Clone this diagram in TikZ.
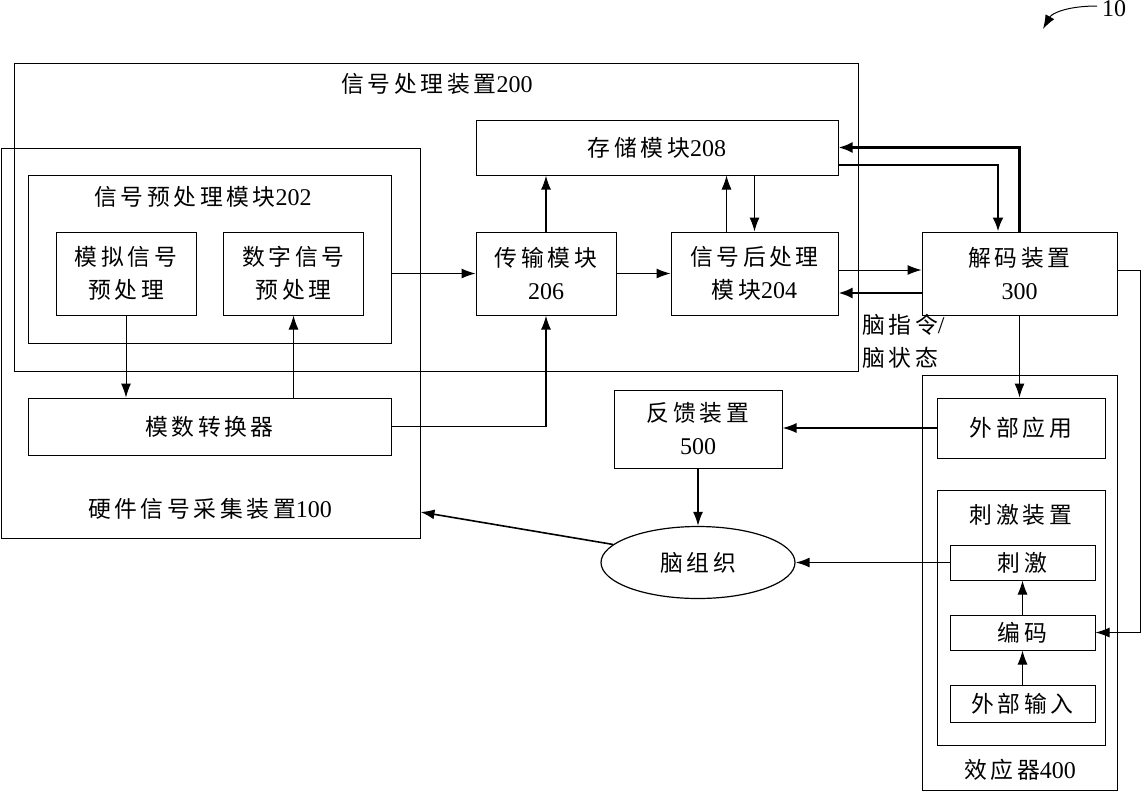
\documentclass[tikz,border=0pt]{standalone}
\usepackage{fontspec}
\setmainfont{Liberation Serif}
\newfontfamily\cjk[Scale=0.95,LetterSpace=16]{Noto Sans CJK SC}
\newcommand{\zh}[1]{{\cjk #1}}
\usetikzlibrary{arrows.meta,shapes.geometric}
\begin{document}
\begin{tikzpicture}[x=1pt,y=-1pt,
  every node/.style={font=\fontsize{24}{33}\selectfont},
  box/.style={draw,line width=1pt,inner sep=0pt,align=center},
  ell/.style={draw,line width=1.2pt,ellipse,inner sep=0pt},
  lbl/.style={inner sep=0pt,align=center},
  arr/.style={line width=1pt,-{Latex[length=14pt,width=10pt]}},
  arrm/.style={line width=1.6pt,-{Latex[length=14pt,width=10pt]}},
  arrt/.style={line width=2.4pt,-{Latex[length=14pt,width=11pt]}},
  ln/.style={line width=1pt}]
\useasboundingbox (0,0) rectangle (1147,798);
% containers
\node[box,minimum width=844pt,minimum height=308pt] (sp) at (436,217) {};
\node[lbl] (spl) at (437,84) {\zh{信号处理装置}200};
\node[box,minimum width=419pt,minimum height=390pt] (hw) at (210.5,343) {};
\node[lbl] (hwl) at (210,509) {\zh{硬件信号采集装置}100};
\node[box,minimum width=363pt,minimum height=168pt] (pre) at (209.5,259) {};
\node[lbl] (prel) at (203,197) {\zh{信号预处理模块}202};
\node[box,minimum width=140pt,minimum height=83pt] (ana) at (126,273.5) {\zh{模拟信号}\\\zh{预处理}};
\node[box,minimum width=140pt,minimum height=83pt] (dig) at (293.5,273.5) {\zh{数字信号}\\\zh{预处理}};
\node[box,minimum width=363pt,minimum height=57pt] (adc) at (209.5,426.5) {\zh{模数转换器}};
% signal processing
\node[box,minimum width=362pt,minimum height=55pt] (sto) at (657,147.5) {\zh{存储模块}208};
\node[box,minimum width=140pt,minimum height=83pt] (tr) at (546,273.5) {\zh{传输模块}\\206};
\node[box,minimum width=167pt,minimum height=83pt] (post) at (754.5,273.5) {\zh{信号后处理}\\\zh{模块}204};
\node[box,minimum width=195pt,minimum height=83pt] (dec) at (1019.5,273.5) {\zh{解码装置}\\300};
\node[lbl,anchor=west,align=left] (cmd) at (862,341) {\zh{脑指令}/\\\zh{脑状态}};
% effector
\node[box,minimum width=195pt,minimum height=415pt] (eff) at (1019.5,582.5) {};
\node[lbl] (effl) at (1020,770) {\zh{效应器}400};
\node[box,minimum width=168pt,minimum height=60pt] (app) at (1021,428) {\zh{外部应用}};
\node[box,minimum width=168pt,minimum height=255pt] (sdev) at (1021,617.5) {};
\node[lbl] (sdevl) at (1021,515) {\zh{刺激装置}};
\node[box,minimum width=145pt,minimum height=35pt] (stim) at (1022.5,562.5) {\zh{刺激}};
\node[box,minimum width=145pt,minimum height=35pt] (enc) at (1022.5,632.5) {\zh{编码}};
\node[box,minimum width=145pt,minimum height=37pt] (ext) at (1022.5,703.5) {\zh{外部输入}};
% feedback and brain
\node[box,minimum width=168pt,minimum height=78pt] (fb) at (698,429) {\zh{反馈装置}\\500};
\node[ell,minimum width=194pt,minimum height=72pt] (brain) at (698,562.5) {\zh{脑组织}};
% figure reference
\node[lbl,anchor=west] (ref) at (1102,9) {10};
\coordinate (refa) at (1097,6);
\coordinate (refb) at (1043,29);
\draw[arr] (refa) .. controls (1068,6) and (1052,13) .. (refb);
% connectors
\draw[arr] (ana.south) -- (ana.south |- adc.north);
\draw[arr] (dig.south |- adc.north) -- (dig.south);
\draw[arr] (pre.east |- tr.west) -- (tr.west);
\draw[arrm] (adc.east) -| (tr.south);
\draw[arrm] (tr.north) -- (tr.north |- sto.south);
\draw[arr] (tr.east) -- (post.west);
\draw[arr] ([xshift=-28pt]post.north) -- ([xshift=-28pt]post.north |- sto.south);
\draw[arr] (post.north |- sto.south) -- (post.north);
\draw[arr] ([yshift=3.5pt]post.east) -- ([yshift=3.5pt]dec.west);
\draw[arrt] ([yshift=-19.5pt]dec.west) -- ([yshift=-19.5pt]post.east);
\draw[arrt] (dec.north) |- (sto.east);
\draw[arrt] ([yshift=-17.5pt]sto.east) -| ([xshift=-21.5pt]dec.north);
\draw[arr] ([yshift=3.5pt]dec.east) -- ++(23,0) |- (enc.east);
\draw[arr] (dec.south) -- (dec.south |- app.north);
\draw[arrm] (app.west) -- (app.west -| fb.east);
\draw[arrm] (fb.south) -- (brain.north);
\draw[arrm] (stim.west) -- (brain.east);
\draw[arrm] (brain.168) -- ([yshift=-169pt]hw.east);
\draw[arr] (enc.north) -- (stim.south);
\draw[arr] (ext.north) -- (enc.south);
\end{tikzpicture}
\end{document}
